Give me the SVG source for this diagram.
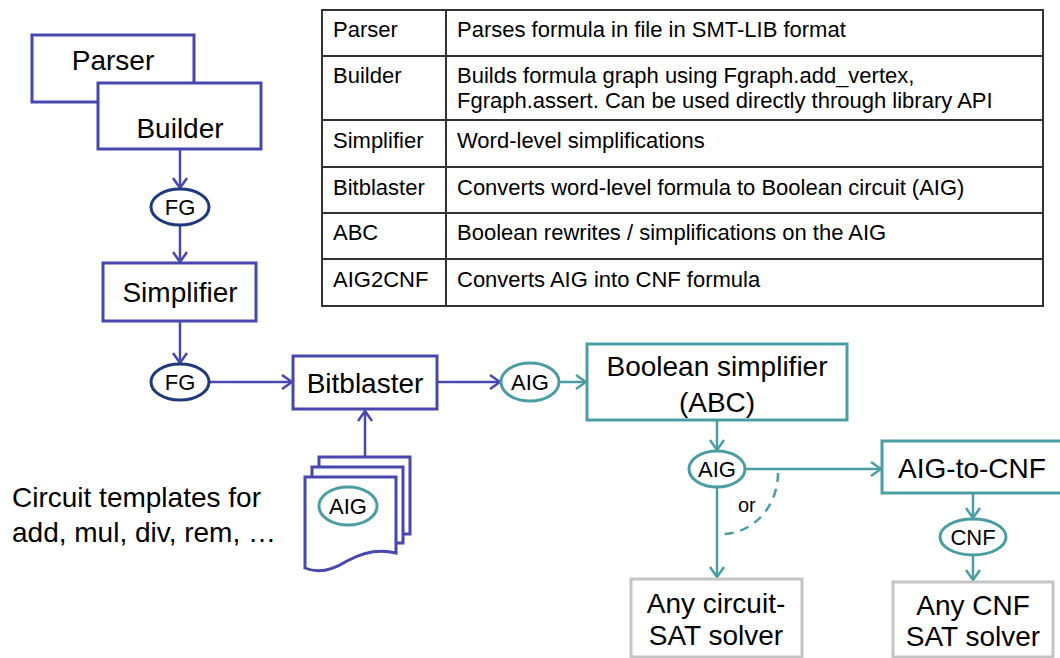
<svg xmlns="http://www.w3.org/2000/svg" width="1060" height="658" viewBox="0 0 1060 658">
  <style>
    text { font-family: "Liberation Sans", Arial, sans-serif; fill: #000; }
    .big { font-size: 28px; }
    .tbl { font-size: 22px; }
    .oval { font-size: 22px; }
    .blue { fill: #fff; stroke: #4747AE; stroke-width: 3; }
    .teal { fill: #fff; stroke: #4A9EA3; stroke-width: 3; }
    .gray { fill: #fff; stroke: #C4C4C4; stroke-width: 3; }
    .navy { fill: #fff; stroke: #1F3A7A; stroke-width: 3; }
    .tline { stroke: #333; stroke-width: 2; fill: none; }
    .cb { stroke: #4747AE; stroke-width: 2.5; fill: none; marker-end: url(#ab); }
    .ct { stroke: #4A9EA3; stroke-width: 2.5; fill: none; marker-end: url(#at); }
    .dash { stroke: #4A9EA3; stroke-width: 2.5; fill: none; stroke-dasharray: 9 7; }
  </style>
  <defs>
    <marker id="ab" viewBox="0 0 12 16" refX="11" refY="8" markerWidth="12" markerHeight="16" markerUnits="userSpaceOnUse" orient="auto">
      <path d="M1,1 L11,8 L1,15" fill="none" stroke="#4747AE" stroke-width="2.5"/>
    </marker>
    <marker id="at" viewBox="0 0 12 16" refX="11" refY="8" markerWidth="12" markerHeight="16" markerUnits="userSpaceOnUse" orient="auto">
      <path d="M1,1 L11,8 L1,15" fill="none" stroke="#4A9EA3" stroke-width="2.5"/>
    </marker>
  </defs>

  <!-- component table -->
  <g id="table">
    <rect x="322" y="10" width="721" height="296" class="tline"/>
    <line x1="446" y1="10" x2="446" y2="306" class="tline"/>
    <line x1="322" y1="56" x2="1043" y2="56" class="tline"/>
    <line x1="322" y1="120" x2="1043" y2="120" class="tline"/>
    <line x1="322" y1="167" x2="1043" y2="167" class="tline"/>
    <line x1="322" y1="213" x2="1043" y2="213" class="tline"/>
    <line x1="322" y1="259" x2="1043" y2="259" class="tline"/>
    <text x="333" y="37" class="tbl">Parser</text>
    <text x="457" y="37" class="tbl">Parses formula in file in SMT-LIB format</text>
    <text x="333" y="83" class="tbl">Builder</text>
    <text x="457" y="83" class="tbl">Builds formula graph using Fgraph.add_vertex,</text>
    <text x="457" y="108" class="tbl">Fgraph.assert. Can be used directly through library API</text>
    <text x="333" y="148" class="tbl">Simplifier</text>
    <text x="457" y="148" class="tbl">Word-level simplifications</text>
    <text x="333" y="195" class="tbl">Bitblaster</text>
    <text x="457" y="195" class="tbl">Converts word-level formula to Boolean circuit (AIG)</text>
    <text x="333" y="240" class="tbl">ABC</text>
    <text x="457" y="240" class="tbl">Boolean rewrites / simplifications on the AIG</text>
    <text x="333" y="287" class="tbl">AIG2CNF</text>
    <text x="457" y="287" class="tbl">Converts AIG into CNF formula</text>
  </g>

  <!-- connectors -->
  <g id="connectors">
    <line x1="180" y1="149" x2="180" y2="188" class="cb"/>
    <line x1="180" y1="225" x2="180" y2="262" class="cb"/>
    <line x1="180" y1="321" x2="180" y2="363" class="cb"/>
    <line x1="209" y1="382" x2="292" y2="382" class="cb"/>
    <line x1="365" y1="457" x2="365" y2="411" class="cb"/>
    <line x1="437" y1="382" x2="500" y2="382" class="cb"/>
    <line x1="559" y1="382" x2="586" y2="382" class="ct"/>
    <line x1="717" y1="420" x2="717" y2="450" class="ct"/>
    <line x1="745" y1="469" x2="881" y2="469" class="ct"/>
    <line x1="717" y1="487" x2="717" y2="577" class="ct"/>
    <line x1="973" y1="493" x2="973" y2="518" class="ct"/>
    <line x1="973" y1="555" x2="973" y2="580" class="ct"/>
    <path d="M778,473 A56,61 0 0,1 722,534" class="dash"/>
    <text x="738" y="512" style="font-size:20px">or</text>
  </g>

  <!-- nodes -->
  <g id="parser">
    <rect x="32" y="35" width="162" height="67" class="blue"/>
    <text x="113" y="70" class="big" text-anchor="middle">Parser</text>
  </g>
  <g id="builder">
    <rect x="98" y="83" width="163" height="66" class="blue"/>
    <text x="180" y="138" class="big" text-anchor="middle">Builder</text>
  </g>
  <g id="fg1">
    <ellipse cx="180" cy="207" rx="29" ry="18" class="navy"/>
    <text x="180" y="215" class="oval" text-anchor="middle">FG</text>
  </g>
  <g id="simplifier">
    <rect x="103" y="263" width="153" height="58" class="blue"/>
    <text x="180" y="302" class="big" text-anchor="middle">Simplifier</text>
  </g>
  <g id="fg2">
    <ellipse cx="180" cy="382" rx="29" ry="18" class="navy"/>
    <text x="180" y="390" class="oval" text-anchor="middle">FG</text>
  </g>
  <g id="bitblaster">
    <rect x="293" y="356" width="144" height="53" class="blue"/>
    <text x="365" y="393" class="big" text-anchor="middle">Bitblaster</text>
  </g>
  <g id="templates">
    <rect x="319" y="457" width="91" height="77" class="blue" stroke-width="2.5"/>
    <rect x="312" y="467" width="91" height="76" class="blue" stroke-width="2.5"/>
    <path d="M305,477 H396 V553 Q372,547 347,561 Q323,576 305,568 Z" class="blue" stroke-width="2.5"/>
    <ellipse cx="348" cy="506" rx="29" ry="19" class="teal"/>
    <text x="348" y="514" class="oval" text-anchor="middle">AIG</text>
  </g>
  <g id="templates-label">
    <text x="12" y="507" class="big">Circuit templates for</text>
    <text x="12" y="542" class="big">add, mul, div, rem, …</text>
  </g>
  <g id="aig1">
    <ellipse cx="530" cy="382" rx="29" ry="19" class="teal"/>
    <text x="530" y="390" class="oval" text-anchor="middle">AIG</text>
  </g>
  <g id="abc">
    <rect x="587" y="344" width="260" height="76" class="teal"/>
    <text x="717" y="376" class="big" text-anchor="middle">Boolean simplifier</text>
    <text x="717" y="412" class="big" text-anchor="middle">(ABC)</text>
  </g>
  <g id="aig2">
    <ellipse cx="717" cy="469" rx="28" ry="18" class="teal"/>
    <text x="717" y="477" class="oval" text-anchor="middle">AIG</text>
  </g>
  <g id="aig2cnf">
    <rect x="882" y="441" width="182" height="52" class="teal"/>
    <text x="972" y="478" class="big" text-anchor="middle">AIG-to-CNF</text>
  </g>
  <g id="cnf">
    <ellipse cx="973" cy="537" rx="33" ry="18" class="teal"/>
    <text x="973" y="545" class="oval" text-anchor="middle">CNF</text>
  </g>
  <g id="circuit-sat">
    <rect x="631" y="579" width="171" height="78" class="gray"/>
    <text x="716" y="613" class="big" text-anchor="middle">Any circuit-</text>
    <text x="716" y="645" class="big" text-anchor="middle">SAT solver</text>
  </g>
  <g id="cnf-sat">
    <rect x="893" y="582" width="160" height="75" class="gray"/>
    <text x="973" y="615" class="big" text-anchor="middle">Any CNF</text>
    <text x="973" y="646" class="big" text-anchor="middle">SAT solver</text>
  </g>
</svg>
